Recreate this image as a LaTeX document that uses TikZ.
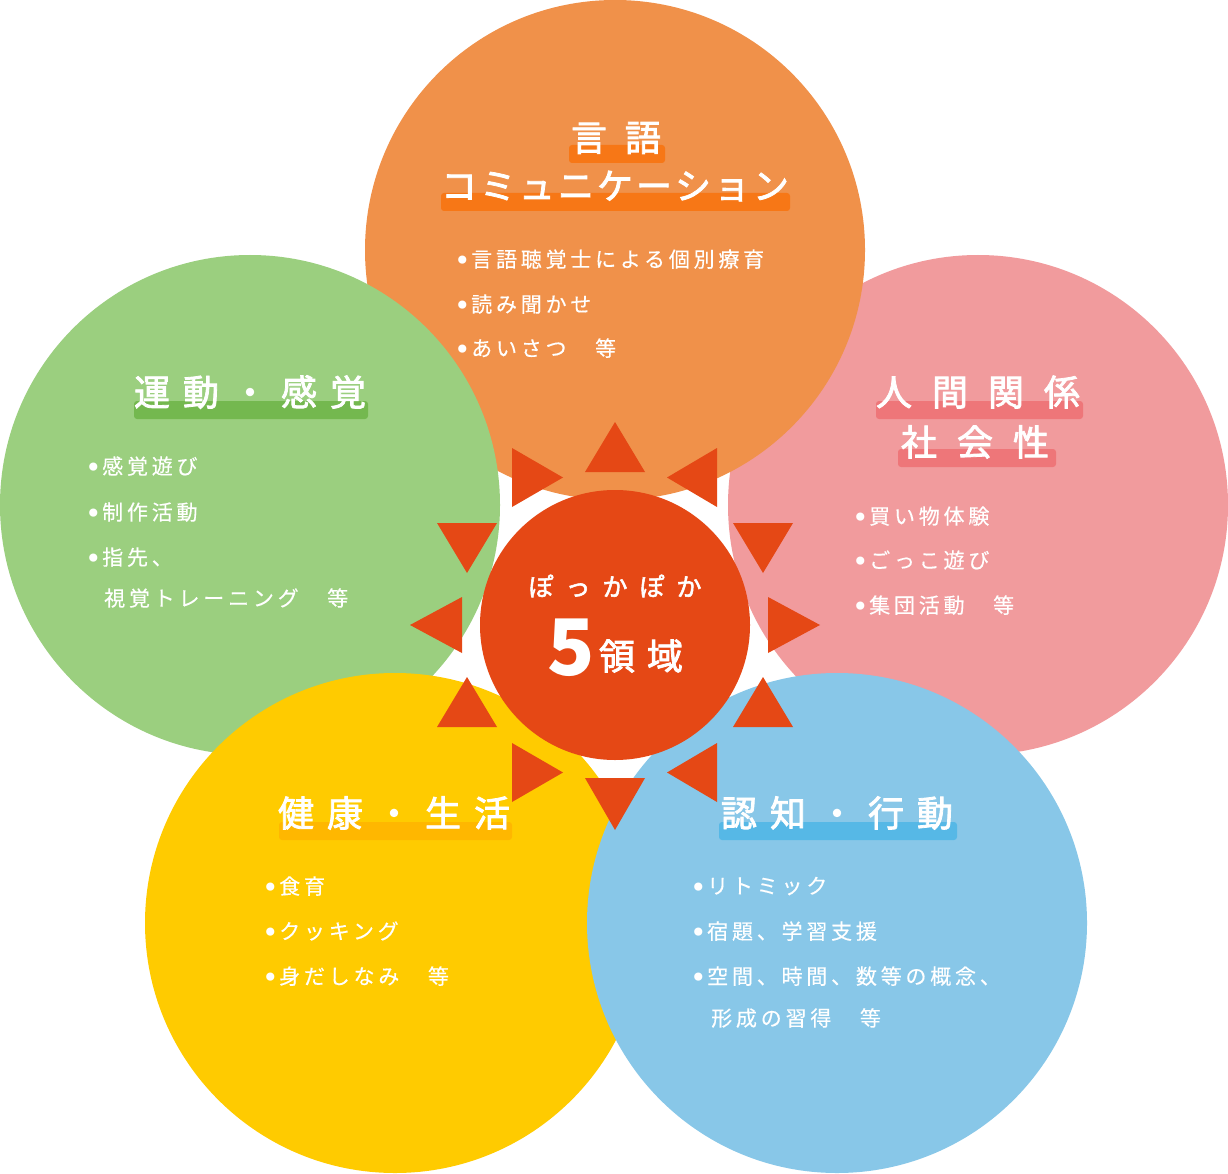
\documentclass[tikz,border=0pt]{standalone}
\usepackage{fontspec}
\newfontfamily\jp{Noto Sans CJK JP}
\newfontfamily\jpt{Noto Sans CJK JP}[FakeBold=2.2]
\newfontfamily\dv{DejaVu Sans}
\definecolor{corange}{HTML}{F0914A}
\definecolor{borange}{HTML}{F77716}
\definecolor{cgreen}{HTML}{9BCF7F}
\definecolor{bgreen}{HTML}{74B84F}
\definecolor{cpink}{HTML}{F19B9D}
\definecolor{bpink}{HTML}{EE7679}
\definecolor{cyellow}{HTML}{FFCB00}
\definecolor{byellow}{HTML}{FFB700}
\definecolor{cblue}{HTML}{88C7E8}
\definecolor{bblue}{HTML}{56B8E6}
\definecolor{cred}{HTML}{E54815}
\newcommand{\bul}{\raisebox{-3.5pt}{\dv\fontsize{28}{20}\selectfont •}\hspace{0.5pt}}
\tikzset{
  ttl/.style={inner sep=0pt, text=white, font=\jpt\fontsize{36}{40}\selectfont},
  itm/.style={anchor=west, inner sep=0pt, text=white, font=\jp\fontsize{21}{24}\selectfont\addfontfeature{LetterSpace=18,FakeBold=0.3}},
  bar/.style={rounded corners=3pt},
  tri/.style={fill=cred}
}
\begin{document}
\begin{tikzpicture}[x=1pt,y=-1pt]
\useasboundingbox (0,0) rectangle (1228,1174);
\fill[white] (0,0) rectangle (1228,1174);
% circles
\fill[cpink] (978,505) circle[radius=250pt];
\fill[corange] (615,250) circle[radius=250pt];
\fill[cgreen] (250,505) circle[radius=250pt];
\fill[cyellow] (395,923) circle[radius=250pt];
\fill[cblue] (837,923) circle[radius=250pt];
% triangles
\begin{scope}[shift={(615,625)}]
\fill[tri] (-30,-153) -- (30,-153) -- (0,-203) -- cycle;
\fill[tri] (-103,-177) -- (-103,-118) -- (-52,-147.5) -- cycle;
\fill[tri] (102,-177) -- (102,-118) -- (52,-147.5) -- cycle;
\fill[tri] (-178,-102) -- (-118,-102) -- (-148,-52) -- cycle;
\fill[tri] (-153,-28) -- (-153,28) -- (-205,0) -- cycle;
\fill[tri] (-178,102) -- (-118,102) -- (-148,52) -- cycle;
\fill[tri] (-103,118) -- (-103,177) -- (-52,147.5) -- cycle;
\fill[tri] (-30,153) -- (30,153) -- (0,205) -- cycle;
\fill[tri] (102,118) -- (102,177) -- (52,147.5) -- cycle;
\fill[tri] (118,102) -- (178,102) -- (148,52) -- cycle;
\fill[tri] (153,-28) -- (153,28) -- (205,0) -- cycle;
\fill[tri] (118,-102) -- (178,-102) -- (148,-52) -- cycle;
\end{scope}
\node[circle, fill=cred, minimum size=270pt, inner sep=0pt] (core) at (615,625) {};
\node[inner sep=0pt, text=white, font=\jpt\fontsize{25}{28}\selectfont] (pk) at (615,586) {ぽ\hspace{12pt}っ\hspace{12pt}か\hspace{12pt}ぽ\hspace{12pt}か};
\node[inner sep=0pt, text=white, font=\jp\bfseries\fontsize{78}{80}\selectfont] (five) at (571,648) {5};
\node[inner sep=0pt, text=white, font=\jpt\fontsize{36}{40}\selectfont] (ryo) at (641,656) {領\hspace{12pt}域};
% title bars
\fill[borange,bar] (569,145) rectangle (665,163);
\fill[borange,bar] (441,193) rectangle (790,211);
\fill[bgreen,bar] (134,401) rectangle (368,419);
\fill[bpink,bar] (876,401) rectangle (1083,419);
\fill[bpink,bar] (898,449) rectangle (1056,467);
\fill[byellow,bar] (279,822) rectangle (512,840);
\fill[bblue,bar] (719,822) rectangle (957,840);
% titles
\node[ttl] (tO1) at (616,138) {言\hspace{18pt}語};
\node[ttl] (tO2) at (615,186) {コ\hspace{3pt}ミ\hspace{3pt}ュ\hspace{3pt}ニ\hspace{3pt}ケ\hspace{3pt}ー\hspace{3pt}シ\hspace{3pt}ョ\hspace{3pt}ン};
\node[ttl] (tG) at (250,392) {運\hspace{13pt}動\hspace{13pt}・\hspace{13pt}感\hspace{13pt}覚};
\node[ttl] (tP1) at (978,392) {人\hspace{20pt}間\hspace{20pt}関\hspace{20pt}係};
\node[ttl] (tP2) at (975,442) {社\hspace{20pt}会\hspace{20pt}性};
\node[ttl] (tY) at (394,813) {健\hspace{13pt}康\hspace{13pt}・\hspace{13pt}生\hspace{13pt}活};
\node[ttl] (tB) at (837,813) {認\hspace{13pt}知\hspace{13pt}・\hspace{13pt}行\hspace{13pt}動};
% items orange
\node[itm] (o1) at (454,260) {\bul 言語聴覚士による個別療育};
\node[itm] (o2) at (454,305) {\bul 読み聞かせ};
\node[itm] (o3) at (454,349) {\bul あいさつ　等};
% items green
\node[itm] (g1) at (85,467) {\bul 感覚遊び};
\node[itm] (g2) at (85,513) {\bul 制作活動};
\node[itm] (g3) at (85,558) {\bul 指先、};
\node[itm] (g4) at (104,598) {視覚トレーニング　等};
% items pink
\node[itm] (p1) at (852,517) {\bul 買い物体験};
\node[itm] (p2) at (852,561) {\bul ごっこ遊び};
\node[itm] (p3) at (852,606) {\bul 集団活動　等};
% items yellow
\node[itm] (y1) at (262,887) {\bul 食育};
\node[itm] (y2) at (262,932) {\bul クッキング};
\node[itm] (y3) at (262,977) {\bul 身だしなみ　等};
% items blue
\node[itm] (b1) at (690,887) {\bul リトミック};
\node[itm] (b2) at (690,932) {\bul 宿題、学習支援};
\node[itm] (b3) at (690,977) {\bul 空間、時間、数等の概念、};
\node[itm] (b4) at (711,1018) {形成の習得　等};
\end{tikzpicture}
\end{document}
